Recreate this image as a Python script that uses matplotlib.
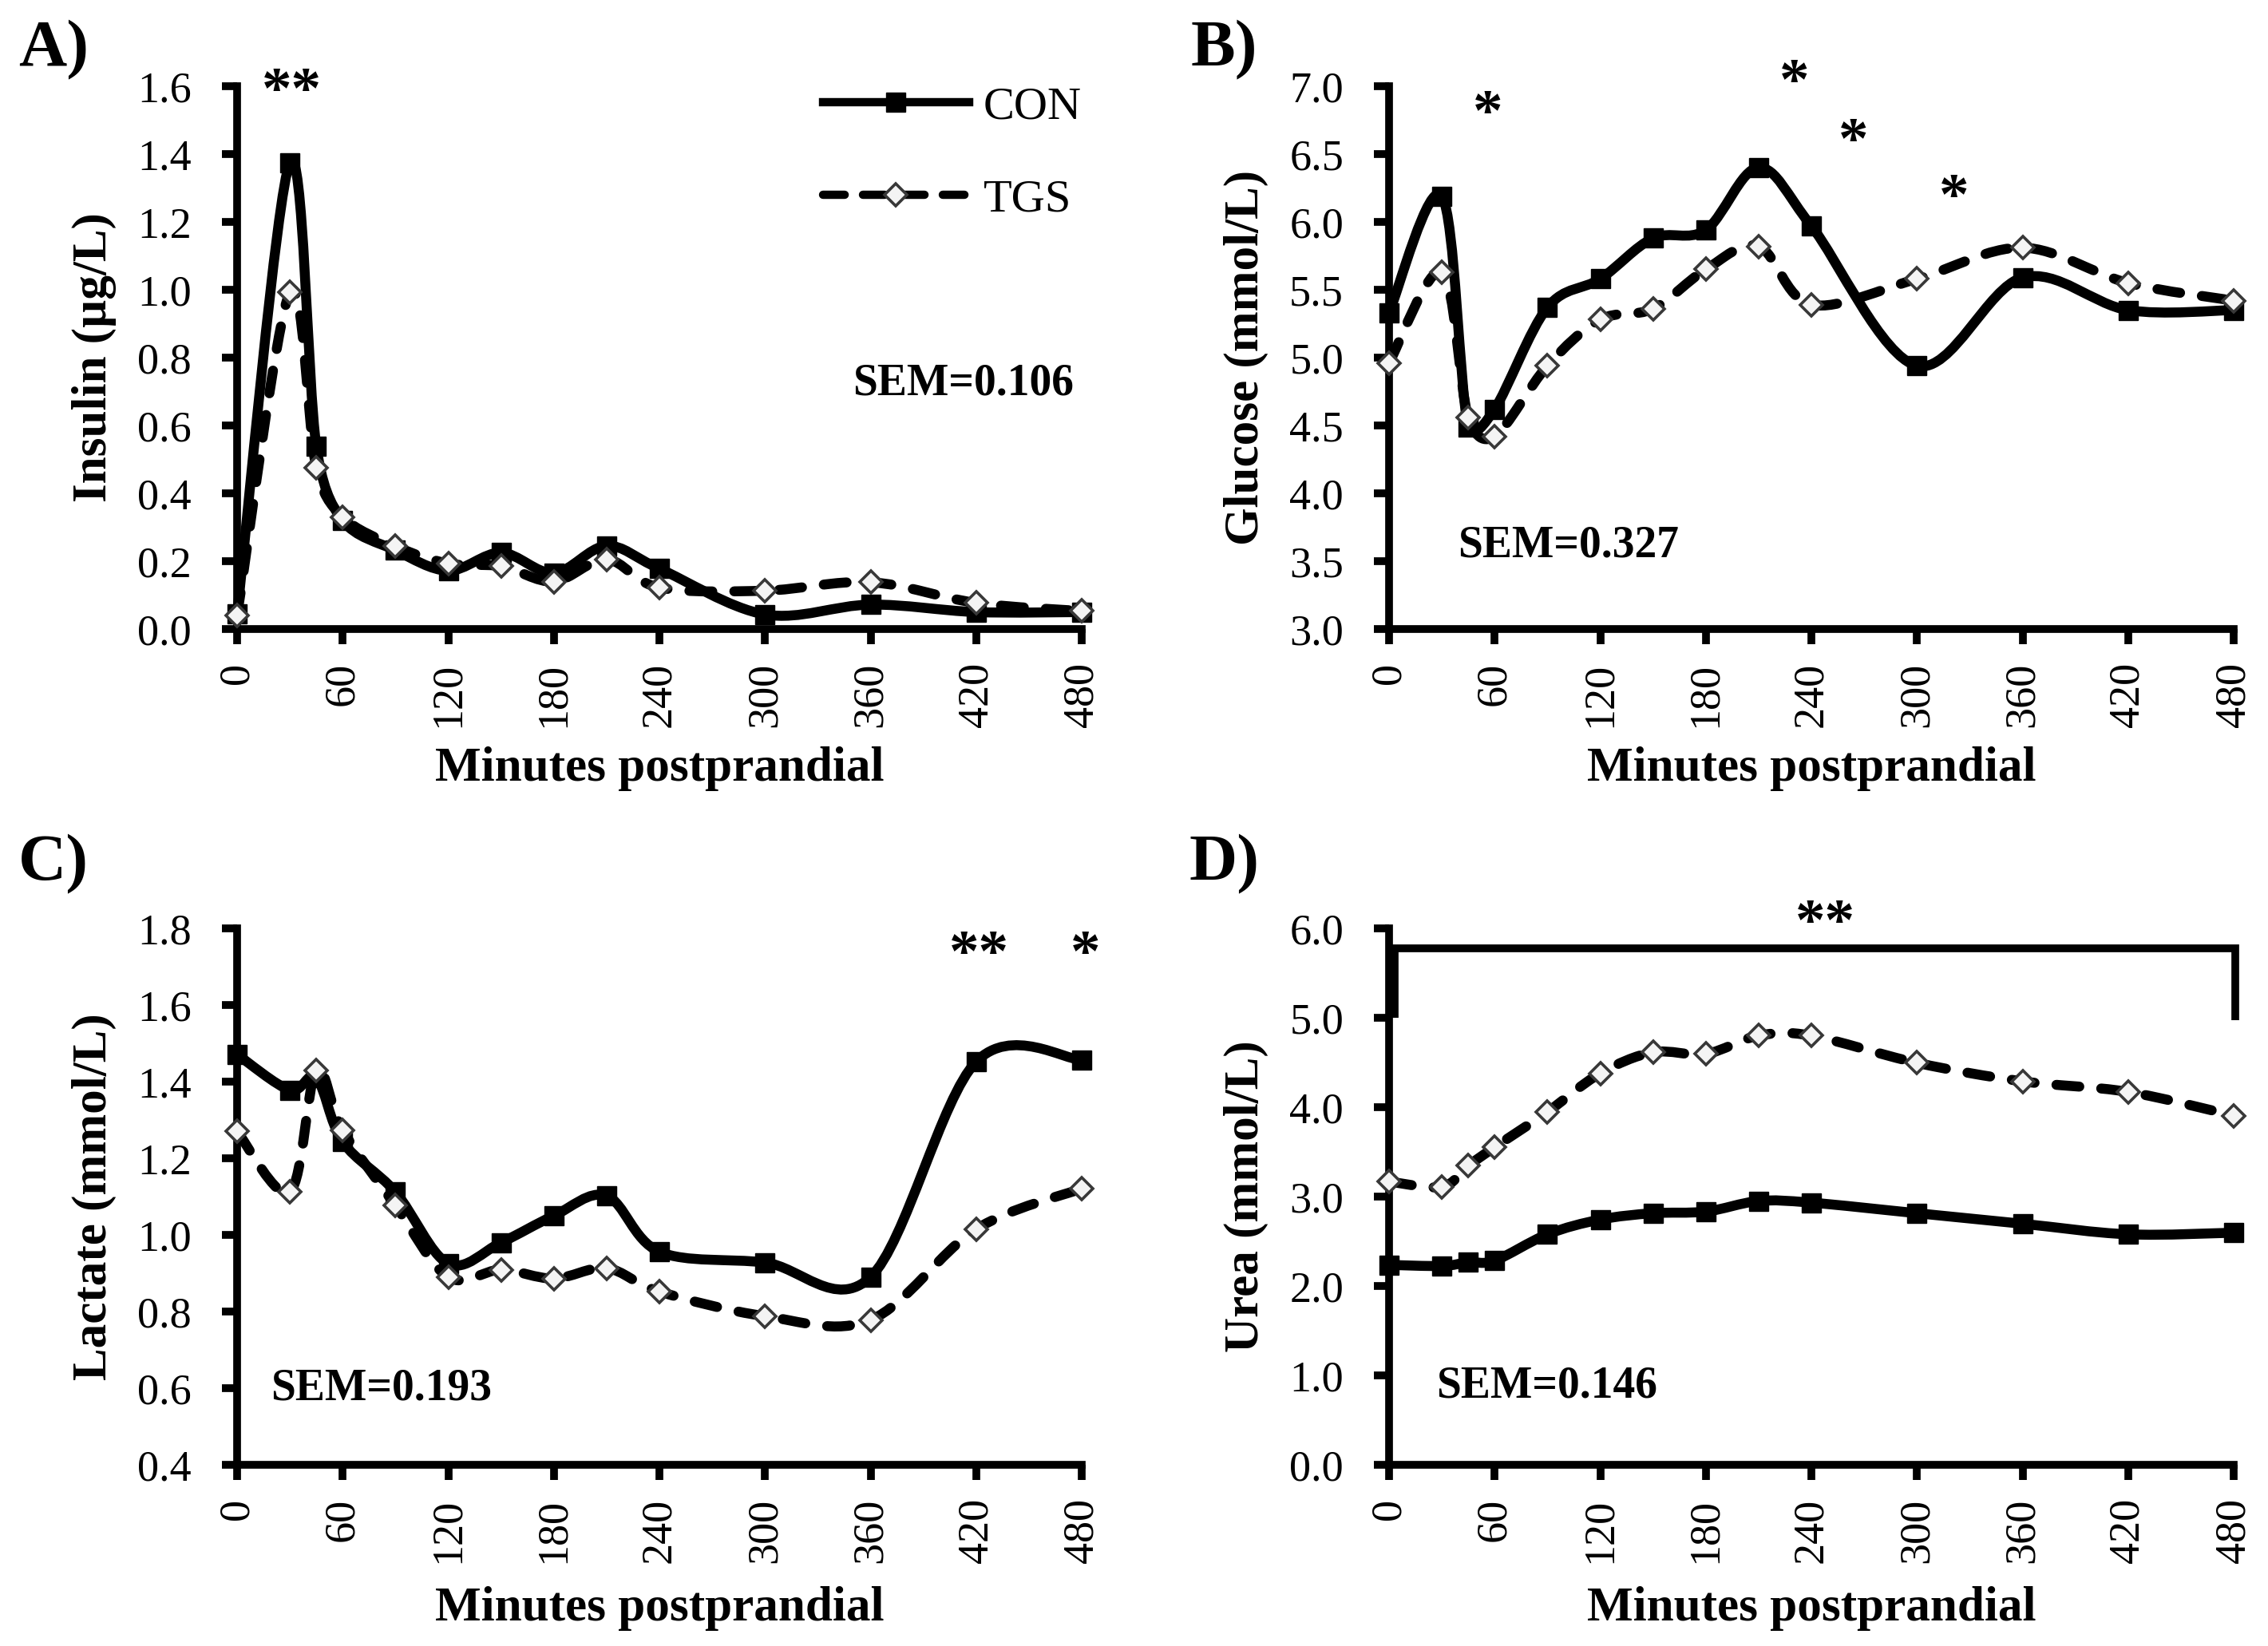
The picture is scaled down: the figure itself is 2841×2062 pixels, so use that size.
import numpy as np
import matplotlib
matplotlib.use('Agg')
import matplotlib.pyplot as plt
from matplotlib.path import Path
from matplotlib.patches import PathPatch
from matplotlib.lines import Line2D

plt.rcParams['font.family'] = ['Liberation Serif', 'DejaVu Serif']

# ---------------- data ----------------
minutes = [0, 30, 45, 60, 90, 120, 150, 180, 210, 240, 300, 360, 420, 480]
x_ticks = [0, 60, 120, 180, 240, 300, 360, 420, 480]

insulin_con = [0.045, 1.375, 0.54, 0.32, 0.232, 0.172, 0.225, 0.165, 0.245, 0.178, 0.043, 0.072, 0.05, 0.05]
insulin_tgs = [0.04, 0.993, 0.476, 0.33, 0.244, 0.193, 0.185, 0.14, 0.205, 0.122, 0.113, 0.138, 0.077, 0.053]

glucose_con = [5.33, 6.19, 4.49, 4.62, 5.37, 5.58, 5.88, 5.94, 6.40, 5.97, 4.94, 5.59, 5.35, 5.35]
glucose_tgs = [4.96, 5.63, 4.56, 4.42, 4.94, 5.28, 5.36, 5.65, 5.82, 5.39, 5.58, 5.81, 5.55, 5.42]

lactate_con = [1.471, 1.378, 1.41, 1.243, 1.112, 0.925, 0.98, 1.05, 1.102, 0.956, 0.928, 0.89, 1.452, 1.457]
lactate_tgs = [1.27, 1.112, 1.43, 1.273, 1.077, 0.89, 0.909, 0.886, 0.913, 0.852, 0.788, 0.778, 1.015, 1.121]

urea_con = [2.236, 2.224, 2.265, 2.283, 2.578, 2.743, 2.814, 2.832, 2.95, 2.932, 2.814, 2.696, 2.578, 2.596]
urea_tgs = [3.168, 3.109, 3.345, 3.552, 3.947, 4.378, 4.614, 4.596, 4.80, 4.80, 4.496, 4.289, 4.171, 3.906]

insulin_yticks = [0.0, 0.2, 0.4, 0.6, 0.8, 1.0, 1.2, 1.4, 1.6]
glucose_yticks = [3.0, 3.5, 4.0, 4.5, 5.0, 5.5, 6.0, 6.5, 7.0]
lactate_yticks = [0.4, 0.6, 0.8, 1.0, 1.2, 1.4, 1.6, 1.8]
urea_yticks = [0.0, 1.0, 2.0, 3.0, 4.0, 5.0, 6.0]

series_labels = ['CON', 'TGS']
panel_letters = ['A)', 'B)', 'C)', 'D)']
ylabels = ['Insulin (µg/L)', 'Glucose (mmol/L)', 'Lactate (mmol/L)', 'Urea (mmol/L)']
xlabel = 'Minutes postprandial'
sem_texts = ['SEM=0.106', 'SEM=0.327', 'SEM=0.193', 'SEM=0.146']

# ---------------- style ----------------
LW = 9.0
SPINE_LW = 7.0
TICK_FS = 39
LABEL_FS = 44
SEM_FS = 40
STAR_FS = 54
LETTER_FS = 60
SQ_MS = 17
DM_MS = 14
DIAMOND_FC = '#f4f4f4'
DIAMOND_EC = '#383838'
DASH = (0, (2.3, 2.2))


def smooth_path(ax, x, y):
    """Excel-style smoothed line: Bezier segments, tangents limited to half a segment."""
    pts = ax.transData.transform(np.column_stack([x, y]).astype(float))
    n = len(pts)
    verts = [pts[0]]
    codes = [Path.MOVETO]
    for i in range(n - 1):
        p0 = pts[max(i - 1, 0)]
        p1 = pts[i]
        p2 = pts[i + 1]
        p3 = pts[min(i + 2, n - 1)]
        d12 = np.hypot(*(p2 - p1))
        t1 = p2 - p0
        t2 = p3 - p1
        l1 = np.hypot(*t1)
        l2 = np.hypot(*t2)
        o1 = min(l1 / 6.0, d12 / 2.0)
        o2 = min(l2 / 6.0, d12 / 2.0)
        c1 = p1 + (t1 / l1 * o1 if l1 > 0 else 0)
        c2 = p2 - (t2 / l2 * o2 if l2 > 0 else 0)
        verts += [c1, c2, p2]
        codes += [Path.CURVE4] * 3
    verts = ax.transData.inverted().transform(np.array(verts))
    return Path(verts, codes)


def setup_axes(ax, yticks, ylabel, label_y):
    ax.set_xlim(0, 480)
    ax.set_ylim(yticks[0], yticks[-1])
    ax.set_xticks(x_ticks)
    ax.set_xticklabels([str(t) for t in x_ticks], rotation=90)
    ax.set_yticks(yticks)
    ax.set_yticklabels([f'{v:.1f}' for v in yticks])
    for s in ['top', 'right']:
        ax.spines[s].set_visible(False)
    for s in ['left', 'bottom']:
        ax.spines[s].set_linewidth(SPINE_LW)
    ax.tick_params(axis='both', direction='out', length=14, width=SPINE_LW, labelsize=TICK_FS)
    ax.tick_params(axis='y', pad=27)
    ax.tick_params(axis='x', pad=16)
    ax.set_ylabel(ylabel, fontsize=LABEL_FS, fontweight='bold', va='center')
    ax.yaxis.set_label_coords(-0.169, 0.5)
    ax.set_xlabel(xlabel, fontsize=LABEL_FS, fontweight='bold', va='center')
    ax.xaxis.set_label_coords(0.5, label_y)


def draw_series(ax, con, tgs):
    ax.add_patch(PathPatch(smooth_path(ax, minutes, con), facecolor='none', edgecolor='black',
                           lw=LW, capstyle='round', joinstyle='round', zorder=3, clip_on=False))
    ax.plot(minutes, con, linestyle='none', marker='s', ms=SQ_MS, mfc='black', mec='black',
            mew=1.0, zorder=4, clip_on=False)
    ax.add_patch(PathPatch(smooth_path(ax, minutes, tgs), facecolor='none', edgecolor='black',
                           lw=LW, linestyle=DASH, capstyle='round', joinstyle='round',
                           zorder=5, clip_on=False))
    ax.plot(minutes, tgs, linestyle='none', marker='D', ms=DM_MS, mfc=DIAMOND_FC, mec=DIAMOND_EC,
            mew=2.6, zorder=6, clip_on=False)


def star(ax, x, y, s):
    ax.annotate(s, xy=(x, y), xytext=(0, -0.48 * STAR_FS), textcoords='offset points',
                ha='center', va='baseline', fontsize=STAR_FS, fontweight='bold',
                annotation_clip=False)


def sem(ax, x, y, s):
    ax.annotate(s, xy=(x, y), xytext=(0, -0.33 * SEM_FS), textcoords='offset points',
                ha='left', va='baseline', fontsize=SEM_FS, fontweight='bold',
                annotation_clip=False)


fig = plt.figure(figsize=(28.41, 20.62), dpi=100)
W, H = 2841, 2062
AW = 1058
axA = fig.add_axes([297 / W, 1 - 788 / H, AW / W, 680 / H])
axB = fig.add_axes([1740 / W, 1 - 788 / H, AW / W, 680 / H])
axC = fig.add_axes([297 / W, 1 - 1835 / H, AW / W, 672 / H])
axD = fig.add_axes([1740 / W, 1 - 1835 / H, AW / W, 672 / H])

setup_axes(axA, insulin_yticks, ylabels[0], -0.258)
setup_axes(axB, glucose_yticks, ylabels[1], -0.258)
setup_axes(axC, lactate_yticks, ylabels[2], -0.268)
setup_axes(axD, urea_yticks, ylabels[3], -0.268)

draw_series(axA, insulin_con, insulin_tgs)
draw_series(axB, glucose_con, glucose_tgs)
draw_series(axC, lactate_con, lactate_tgs)
draw_series(axD, urea_con, urea_tgs)

# legend (panel A)
h_con = Line2D([], [], color='black', lw=7.5, marker='s', ms=SQ_MS, mfc='black', mec='black')
h_tgs = Line2D([], [], color='black', lw=7.5, linestyle=(0, (2.6, 2.2)), dash_capstyle='round',
               marker='D', ms=DM_MS, mfc=DIAMOND_FC, mec=DIAMOND_EC, mew=2.6)
axA.legend([h_con, h_tgs], series_labels, loc='upper right', bbox_to_anchor=(1.0, 1.0),
           frameon=False, fontsize=42, handlelength=3.14, handletextpad=0.31,
           labelspacing=1.07, borderaxespad=0, borderpad=0, numpoints=1)

# significance marks
star(axA, 31, 1.62, '**')
star(axB, 56, 6.89, '*')
star(axB, 230.5, 7.12, '*')
star(axB, 264, 6.68, '*')
star(axB, 321, 6.27, '*')
star(axC, 421.5, 1.765, '**')
star(axC, 482, 1.765, '*')
star(axD, 248, 6.2, '**')
axD.plot([3.2, 3.2, 481, 481], [5.0, 5.78, 5.78, 4.97], color='black', lw=SPINE_LW,
         solid_joinstyle='miter', solid_capstyle='butt', clip_on=False, zorder=3)

# SEM texts
sem(axA, 350, 0.734, sem_texts[0])
sem(axB, 39, 3.64, sem_texts[1])
sem(axC, 19.3, 0.607, sem_texts[2])
sem(axD, 27, 0.92, sem_texts[3])

# panel letters
for (fx, fy), letter in zip([(67, 63), (1533, 63), (67, 1083), (1533, 1083)], panel_letters):
    fig.text(fx / W, 1 - fy / H, letter, ha='center', va='center',
             fontsize=LETTER_FS, fontweight='bold')

fig.savefig('out.png', dpi=100, facecolor='white')
